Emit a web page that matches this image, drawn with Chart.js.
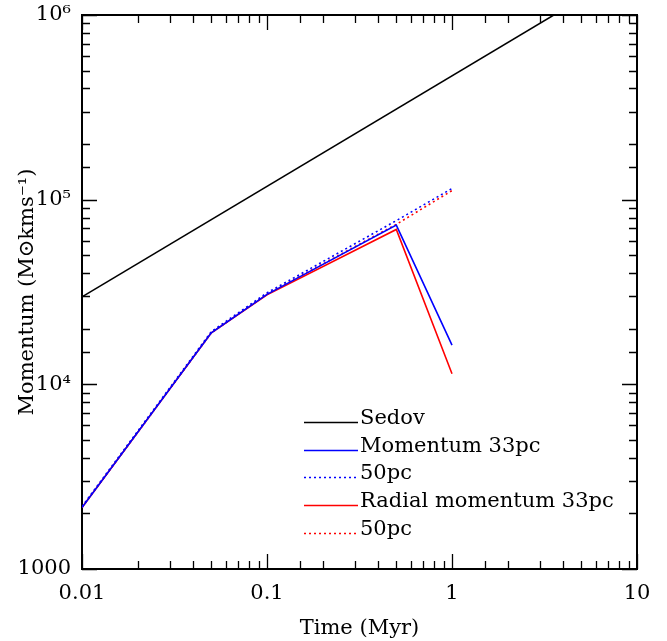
<!DOCTYPE html>
<html>
<head>
<meta charset="utf-8">
<script src="https://cdn.jsdelivr.net/npm/chart.js@4"></script>
<style>
  html, body { margin: 0; padding: 0; background: #fff; }
  #wrap { width: 667px; height: 641px; }
</style>
</head>
<body>
<div id="wrap"><canvas id="c" width="667" height="641"></canvas></div>
<script>
// Time (Myr) at which each run was sampled
const times = [0.01, 0.05, 0.1, 0.5, 1];

// Sedov solution (straight line in log-log), end points
const sedovTimes = [0.01, 3.55];
const sedovMomentum = [29800, 1000000];

// Total momentum, 33pc and 50pc runs
const momentum33 = [2150, 19000, 30700, 72800, 16300];
const momentum50 = [2180, 19300, 31300, 77000, 115000];

// Radial momentum, 33pc and 50pc runs
const radial33 = [2150, 19000, 30500, 69000, 11400];
const radial50 = [2150, 19000, 30800, 73500, 112000];

// Axis labels
const xTickLabels = { 0.01: '0.01', 0.1: '0.1', 1: '1', 10: '10' };
const yTickLabels = { 1000: '1000', 10000: '10\u2074', 100000: '10\u2075', 1000000: '10\u2076' };

const FONT = "'DejaVu Serif', 'Liberation Serif', serif";

function pts(xs, ys) { return xs.map((x, i) => ({ x: x, y: ys[i] })); }

// Inward ticks on all four sides, plus top/right frame and the legend
const frameTicks = {
  id: 'frameTicks',
  afterDraw(chart) {
    const ctx = chart.ctx;
    const a = chart.chartArea;
    const xs = chart.scales.x, ys = chart.scales.y;
    ctx.save();
    ctx.strokeStyle = '#000';
    ctx.lineWidth = 2;
    ctx.beginPath();
    ctx.moveTo(a.left, a.top); ctx.lineTo(a.right, a.top); ctx.lineTo(a.right, a.bottom);
    ctx.stroke();
    ctx.lineWidth = 1.3;
    const isMajor = v => Math.abs(Math.log10(v) - Math.round(Math.log10(v))) < 1e-9;
    ctx.beginPath();
    xs.ticks.forEach(t => {
      const v = t.value;
      if (v < xs.min || v > xs.max) return;
      const px = Math.round(xs.getPixelForValue(v)) + 0.5;
      const len = isMajor(v) ? 15 : 8;
      ctx.moveTo(px, a.bottom); ctx.lineTo(px, a.bottom - len);
      ctx.moveTo(px, a.top); ctx.lineTo(px, a.top + len);
    });
    ys.ticks.forEach(t => {
      const v = t.value;
      if (v < ys.min || v > ys.max) return;
      const py = Math.round(ys.getPixelForValue(v)) + 0.5;
      const len = isMajor(v) ? 15 : 8;
      ctx.moveTo(a.left, py); ctx.lineTo(a.left + len, py);
      ctx.moveTo(a.right, py); ctx.lineTo(a.right - len, py);
    });
    ctx.stroke();

    // legend
    const lx0 = 304, lx1 = 358, ly0 = 422, dy = 27.7;
    ctx.font = '21px ' + FONT;
    ctx.textBaseline = 'alphabetic';
    ctx.textAlign = 'left';
    chart.data.datasets.forEach((ds, i) => {
      const y = Math.round(ly0 + i * dy) + 0.5;
      ctx.strokeStyle = ds.borderColor;
      ctx.lineWidth = ds.borderWidth;
      ctx.setLineDash(ds.borderDash || []);
      ctx.beginPath(); ctx.moveTo(lx0, y); ctx.lineTo(lx1, y); ctx.stroke();
      ctx.setLineDash([]);
      ctx.fillStyle = '#000';
      ctx.fillText(ds.label, lx1 + 2, y + 1);
    });
    ctx.restore();
  }
};

new Chart(document.getElementById('c'), {
  type: 'line',
  data: {
    datasets: [
      { label: 'Sedov', data: pts(sedovTimes, sedovMomentum), borderColor: '#000', borderWidth: 1.5 },
      { label: 'Momentum 33pc', data: pts(times, momentum33), borderColor: '#0000ff', borderWidth: 1.6 },
      { label: '50pc', data: pts(times, momentum50), borderColor: '#0000ff', borderWidth: 1.6, borderDash: [2, 3] },
      { label: 'Radial momentum 33pc', data: pts(times, radial33), borderColor: '#ff0000', borderWidth: 1.6 },
      { label: '50pc', data: pts(times, radial50), borderColor: '#ff0000', borderWidth: 1.6, borderDash: [2, 3] }
    ]
  },
  options: {
    responsive: false,
    animation: false,
    events: [],
    layout: { padding: { top: 15, right: 30, left: 0, bottom: 0 } },
    elements: { point: { radius: 0 }, line: { tension: 0, fill: false } },
    plugins: { legend: { display: false }, tooltip: { enabled: false } },
    scales: {
      x: {
        type: 'logarithmic',
        min: 0.01, max: 10,
        afterFit(s) { s.height = 72; s.paddingLeft = 0; s.paddingRight = 0; },
        grid: { display: false, drawTicks: false },
        border: { display: true, color: '#000', width: 2 },
        ticks: {
          autoSkip: false, maxRotation: 0, padding: 12, color: '#000',
          font: { family: FONT, size: 21 },
          callback(v) { return xTickLabels[v] || ''; }
        },
        title: { display: true, text: 'Time (Myr)', color: '#000', font: { family: FONT, size: 21 }, padding: { top: 0, bottom: 0 } }
      },
      y: {
        type: 'logarithmic',
        min: 1000, max: 1000000,
        afterFit(s) { s.width = 82; s.paddingTop = 0; s.paddingBottom = 0; },
        grid: { display: false, drawTicks: false },
        border: { display: true, color: '#000', width: 2 },
        ticks: {
          autoSkip: false, padding: 11, color: '#000',
          font: { family: FONT, size: 21 },
          callback(v) { return yTickLabels[v] || ''; }
        },
        title: { display: true, text: 'Momentum (M\u2299kms\u207B\u00B9)', color: '#000', font: { family: FONT, size: 21 }, padding: { top: 15, bottom: 0 } }
      }
    }
  },
  plugins: [frameTicks]
});
</script>
</body>
</html>
